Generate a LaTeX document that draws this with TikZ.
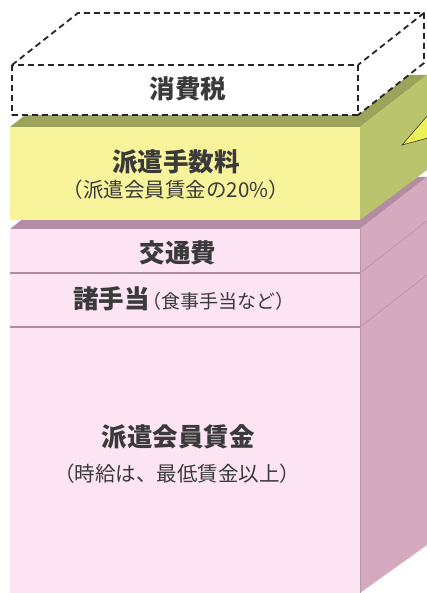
\documentclass[tikz,border=0pt]{standalone}
\usepackage{fontspec}
\newfontfamily\jp{Noto Sans CJK JP}
\definecolor{yfront}{HTML}{F8F49C}
\definecolor{yside}{HTML}{B9C46C}
\definecolor{ytop}{HTML}{9CA35A}
\definecolor{pfront}{HTML}{FCE4F2}
\definecolor{pside}{HTML}{D5A9BE}
\definecolor{ptop}{HTML}{B48CA4}
\definecolor{pline}{HTML}{B08C9C}
\definecolor{txt}{HTML}{3A3A3A}
\definecolor{arrowy}{HTML}{EEF05A}
\tikzset{
  title/.style={font=\jp\bfseries\fontsize{25.5}{28}\selectfont, text=txt, inner sep=0pt},
  sub/.style={font=\jp\fontsize{20.5}{23}\selectfont, text=txt, inner sep=0pt},
  taxline/.style={draw=black!85, line width=1.8pt, dash pattern=on 6pt off 4pt, line join=round}
}
\begin{document}
\begin{tikzpicture}[x=1pt,y=-1pt]
\useasboundingbox[fill=white] (0,0) rectangle (427,593);
% pink box
\fill[ptop] (10,229) -- (360,229) -- (427,177) -- (76,177) -- cycle;
\fill[pside] (360,229) -- (427,177) -- (427,545) -- (360,593) -- cycle;
\fill[pfront] (10,229) rectangle (360,593);
\draw[pline, line width=1.4pt] (10,273) -- (360,273);
\draw[pline, line width=1.4pt] (10,327) -- (360,327);
\draw[pline!80!pside, line width=0.6pt] (360,273) -- (427,221);
\draw[pline!80!pside, line width=0.6pt] (360,327) -- (427,275);
\draw[pline!70!pside, line width=0.8pt] (360,229) -- (360,593);
% yellow box
\fill[ytop] (10,127) -- (360,127) -- (427,75) -- (76,75) -- cycle;
\fill[yside] (360,127) -- (427,75) -- (427,170) -- (360,220) -- cycle;
\fill[yfront] (10,127) rectangle (360,220);
% arrow wedge
\filldraw[fill=arrowy, draw=black!70!yside, line width=0.6pt] (402,145) -- (428,115) -- (428,138) -- cycle;
% tax box
\fill[white] (12,65) -- (78,13) -- (424,13) -- (424,63) -- (358,115) -- (12,115) -- cycle;
\draw[taxline] (12,65) rectangle (358,115);
\draw[taxline] (12,65) -- (78,13) -- (424,13) -- (358,65);
\draw[taxline] (424,13) -- (424,63) -- (358,115);
% texts
\node[title] (tax) at (188,89) {消費税};
\node[title] (fee) at (176,162) {派遣手数料};
\node[sub] (feesub) at (176,190) {（派遣会員賃金の20\%）};
\node[title] (trans) at (178,253) {交通費};
\node[anchor=west, inner sep=0pt, text=txt] (allow) at (73,299) {{\jp\bfseries\fontsize{25.5}{28}\selectfont 諸手当}\kern-7pt{\jp\fontsize{19}{22}\selectfont （食事手当など）}};
\node[title] (wage) at (178,437) {派遣会員賃金};
\node[sub] (wagesub) at (177,474) {（時給は、最低賃金以上）};
\end{tikzpicture}
\end{document}
